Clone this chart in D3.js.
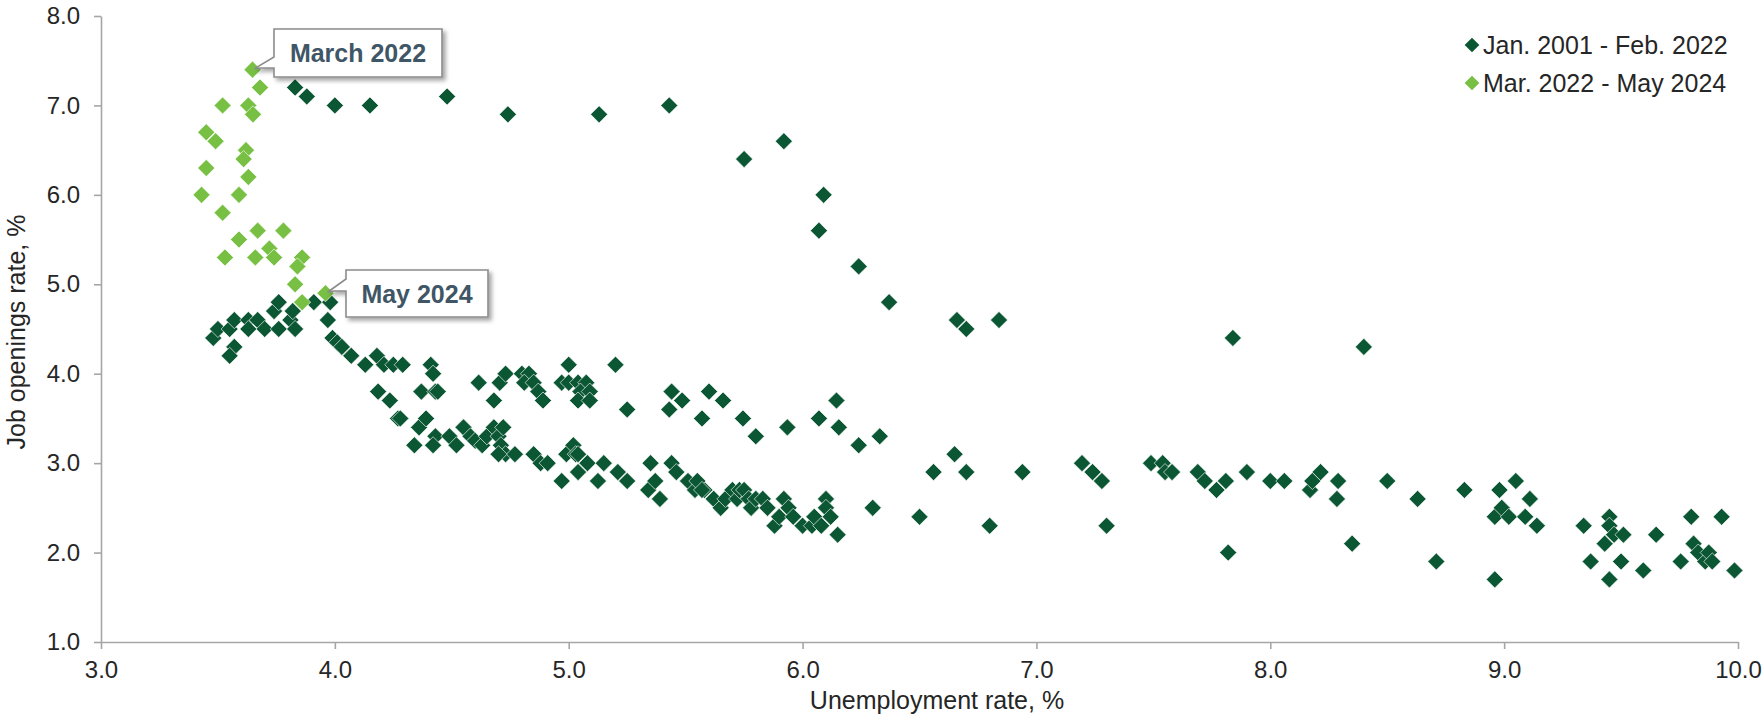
<!DOCTYPE html>
<html lang="en">
<head>
<meta charset="UTF-8">
<title>Job openings rate vs unemployment rate</title>
<script src="https://d3js.org/d3.v7.min.js"></script>
<style>
    body { margin: 0; background: #fff; }
    svg { display: block; font-family: "Liberation Sans", Arial, sans-serif; }
    .axis path, .axis line { stroke: #a6a6a6; stroke-width: 1.6px; }
    .axis text { font-size: 24px; fill: #262626; font-family: "Liberation Sans", Arial, sans-serif; }
    .axis-title { font-size: 25px; fill: #262626; }
    .legend text { font-size: 25px; fill: #262626; }
    .callout-text { font-size: 25px; font-weight: bold; fill: #3f5666; }
</style>
</head>
<body>
<div id="chart"></div>
<script>
// Jan. 2001 - Feb. 2022 : unemployment rate (%) and job openings rate (%)
const darkUnemp = [
    3.48, 3.50, 3.55, 3.57, 3.57, 3.55, 3.63, 3.63, 3.67, 3.70, 3.76, 3.74, 3.76, 3.81, 3.82, 3.83,
    3.91, 3.98, 3.97, 3.99, 4.01, 4.03, 4.07, 4.13, 4.18, 4.21, 4.25, 4.29, 4.185, 4.235, 4.27,
    3.83, 3.88, 4.00, 4.15, 4.48, 4.74, 5.13, 5.43, 5.75, 5.92, 6.07, 6.09, 6.24, 6.37, 6.66, 6.70, 6.84, 7.84, 8.40,
    4.41, 4.42, 4.37, 4.43, 4.44, 4.615, 4.68, 4.705, 4.73, 4.80, 4.83, 4.81, 4.85, 4.87, 4.89, 5.00,
    4.97, 5.00, 5.04, 5.075, 5.05, 5.09, 5.04, 5.09, 5.20, 5.25, 5.44, 5.485, 5.43, 5.60, 5.66, 5.57,
    5.745, 5.80, 5.935, 6.07, 6.145, 6.155, 6.24, 6.33,
    4.28, 4.36, 4.39, 4.34, 4.43, 4.42, 4.49, 4.52, 4.55, 4.58, 4.60, 4.63, 4.65, 4.68, 4.70, 4.71,
    4.72, 4.73, 4.77, 4.70, 4.85, 4.88, 4.91, 4.99, 5.02, 5.03, 4.97, 5.04, 5.04, 5.08, 5.125, 5.15,
    5.21, 5.25, 5.35, 5.34, 5.37, 5.44, 5.46, 5.39, 5.51, 5.54, 5.58,
    5.55, 5.57, 5.62, 5.65, 5.67, 5.70, 5.72, 5.73, 5.75, 5.77, 5.78, 5.80, 5.83, 5.85, 5.88, 5.90,
    5.92, 5.94, 5.96, 6.00, 6.04, 6.05, 6.08, 6.10, 6.10, 6.12, 6.15, 6.30, 6.50, 6.80,
    6.56, 6.65, 6.70, 6.94, 7.195, 7.24, 7.28, 7.30, 7.49, 7.54, 7.55, 7.58, 7.69, 7.72, 7.77, 7.81,
    7.82, 7.90, 8.00, 8.06, 8.17, 8.18, 8.215, 8.29, 8.285, 8.35, 8.50, 8.63, 8.71, 8.83, 8.96, 8.96,
    8.98, 8.99, 9.02, 9.05, 9.09, 9.11, 9.14, 9.34, 9.37, 9.43, 9.45, 9.45, 9.45, 9.47, 9.50, 9.51,
    9.595, 9.65, 9.755, 9.80, 9.81, 9.83, 9.86, 9.875, 9.89, 9.93, 9.985
];
const darkOpenings = [
    4.4, 4.5, 4.5, 4.6, 4.3, 4.2, 4.6, 4.5, 4.6, 4.5, 4.5, 4.7, 4.8, 4.6, 4.7, 4.5,
    4.8, 4.8, 4.6, 4.4, 4.35, 4.3, 4.2, 4.1, 4.2, 4.1, 4.1, 4.1, 3.8, 3.7, 3.5,
    7.2, 7.1, 7.0, 7.0, 7.1, 6.9, 6.9, 7.0, 6.4, 6.6, 5.6, 6.0, 5.2, 4.8, 4.6, 4.5, 4.6, 4.4, 4.3,
    4.1, 4.0, 3.8, 3.8, 3.8, 3.9, 3.7, 3.9, 4.0, 4.0, 4.0, 3.9, 3.9, 3.8, 3.7, 4.1,
    3.9, 3.9, 3.9, 3.9, 3.8, 3.8, 3.7, 3.7, 4.1, 3.6, 3.8, 3.7, 3.6, 3.8, 3.7, 3.5,
    3.5, 3.3, 3.4, 3.5, 3.7, 3.4, 3.2, 3.3,
    3.5, 3.4, 3.5, 3.2, 3.3, 3.2, 3.3, 3.2, 3.4, 3.3, 3.25, 3.2, 3.3, 3.4, 3.3, 3.2,
    3.4, 3.1, 3.1, 3.1, 3.1, 3.0, 3.0, 3.1, 3.2, 3.1, 2.8, 3.1, 2.9, 3.0, 2.8, 3.0,
    2.9, 2.8, 3.0, 2.7, 2.8, 3.0, 2.9, 2.6, 2.8, 2.7, 2.7,
    2.8, 2.7, 2.6, 2.5, 2.6, 2.7, 2.6, 2.7, 2.7, 2.6, 2.5, 2.6, 2.6, 2.5, 2.3, 2.4,
    2.6, 2.5, 2.4, 2.3, 2.3, 2.4, 2.3, 2.6, 2.5, 2.4, 2.2, 2.5, 2.4, 2.3,
    2.9, 3.1, 2.9, 2.9, 3.0, 2.9, 2.8, 2.3, 3.0, 3.0, 2.9, 2.9, 2.9, 2.8, 2.7, 2.8,
    2.0, 2.9, 2.8, 2.8, 2.7, 2.8, 2.9, 2.8, 2.6, 2.1, 2.8, 2.6, 1.9, 2.7, 1.7, 2.4,
    2.7, 2.5, 2.4, 2.8, 2.4, 2.6, 2.3, 2.3, 1.9, 2.1, 2.4, 2.3, 1.7, 2.2, 1.9, 2.2,
    1.8, 2.2, 1.9, 2.4, 2.1, 2.0, 1.9, 2.0, 1.9, 2.4, 1.8
];

// Mar. 2022 - May 2024
const lightUnemp = [
    3.648, 3.68, 3.52, 3.63, 3.65, 3.45, 3.49, 3.62, 3.61, 3.45, 3.63, 3.43, 3.59,
    3.52, 3.67, 3.78, 3.59, 3.72, 3.53, 3.66, 3.74, 3.86, 3.84, 3.83, 3.86, 3.96
];
const lightOpenings = [
    7.4, 7.2, 7.0, 7.0, 6.9, 6.7, 6.6, 6.5, 6.4, 6.3, 6.2, 6.0, 6.0,
    5.8, 5.6, 5.6, 5.5, 5.4, 5.3, 5.3, 5.3, 5.3, 5.2, 5.0, 4.8, 4.9
];

const seriesNames = ["Jan. 2001 - Feb. 2022", "Mar. 2022 - May 2024"];
const seriesColors = ["#0b5733", "#77c043"];
const xTicks = [3, 4, 5, 6, 7, 8, 9, 10];
const yTicks = [1, 2, 3, 4, 5, 6, 7, 8];
const calloutLabels = ["March 2022", "May 2024"];

const width = 1764, height = 719;
const margin = { top: 16, right: 26, bottom: 77, left: 101 };

const svg = d3.select("#chart").append("svg")
    .attr("width", width)
    .attr("height", height);

const defs = svg.append("defs");
const shadow = defs.append("filter")
    .attr("id", "boxShadow")
    .attr("x", "-10%").attr("y", "-20%")
    .attr("width", "130%").attr("height", "150%");
shadow.append("feDropShadow")
    .attr("dx", 3).attr("dy", 3)
    .attr("stdDeviation", 2.2)
    .attr("flood-color", "#000")
    .attr("flood-opacity", 0.35);

const x = d3.scaleLinear().domain([3, 10]).range([margin.left, width - margin.right]);
const y = d3.scaleLinear().domain([1, 8]).range([height - margin.bottom, margin.top]);

// Axes
svg.append("g")
    .attr("class", "axis")
    .attr("transform", `translate(0,${height - margin.bottom})`)
    .call(d3.axisBottom(x).tickValues(xTicks).tickFormat(d3.format(".1f")).tickSize(7).tickSizeOuter(0).tickPadding(12));

svg.append("g")
    .attr("class", "axis")
    .attr("transform", `translate(${margin.left},0)`)
    .call(d3.axisLeft(y).tickValues(yTicks).tickFormat(d3.format(".1f")).tickSize(7).tickSizeOuter(0).tickPadding(14));

svg.append("text")
    .attr("class", "axis-title")
    .attr("x", 937)
    .attr("y", 709)
    .attr("text-anchor", "middle")
    .text("Unemployment rate, %");

svg.append("text")
    .attr("class", "axis-title")
    .attr("transform", `translate(25,${(margin.top + height - margin.bottom) / 2 + 3}) rotate(-90)`)
    .attr("text-anchor", "middle")
    .text("Job openings rate, %");

// Points
const diamond = d3.symbol(d3.symbolSquare, 146);

const darkPoints = darkUnemp.map((u, i) => ({ u: u, jo: darkOpenings[i] }));
const lightPoints = lightUnemp.map((u, i) => ({ u: u, jo: lightOpenings[i] }));

function drawSeries(points, color) {
    svg.append("g").selectAll("path")
        .data(points.filter(d => d.u >= 3 && d.u <= 10))
        .enter().append("path")
        .attr("d", diamond)
        .attr("transform", d => `translate(${x(d.u)},${y(d.jo)}) rotate(45)`)
        .attr("fill", color)
        .attr("stroke", "#fff")
        .attr("stroke-width", 0.6);
}
drawSeries(darkPoints, seriesColors[0]);
drawSeries(lightPoints, seriesColors[1]);

// Callouts
const callouts = [
    { label: calloutLabels[0], point: lightPoints[0], bx: 274, by: 29, w: 168, h: 48, wedgeTop: 57, wedgeBottom: 68 },
    { label: calloutLabels[1], point: lightPoints[lightPoints.length - 1], bx: 346, by: 270, w: 142, h: 47, wedgeTop: 279, wedgeBottom: 291 }
];

callouts.forEach(c => {
    const px = x(c.point.u) + 2, py = y(c.point.jo) - 1;
    const path = `M${c.bx},${c.by} H${c.bx + c.w} V${c.by + c.h} H${c.bx} V${c.wedgeBottom} H${px + 6} L${px},${py} L${c.bx},${c.wedgeTop} Z`;
    svg.append("path")
        .attr("d", path)
        .attr("fill", "#fff")
        .attr("stroke", "#8c8c8c")
        .attr("stroke-width", 1.6)
        .attr("filter", "url(#boxShadow)");
    svg.append("text")
        .attr("class", "callout-text")
        .attr("x", c.bx + c.w / 2)
        .attr("y", c.by + c.h / 2 + 9)
        .attr("text-anchor", "middle")
        .text(c.label);
});

// Legend
const legend = svg.append("g").attr("class", "legend");
seriesNames.forEach((name, i) => {
    const ly = 45 + i * 38;
    legend.append("path")
        .attr("d", d3.symbol(d3.symbolSquare, 108))
        .attr("transform", `translate(1472,${ly}) rotate(45)`)
        .attr("fill", seriesColors[i]);
    legend.append("text")
        .attr("x", 1483)
        .attr("y", ly + 9)
        .text(name);
});
</script>
</body>
</html>
